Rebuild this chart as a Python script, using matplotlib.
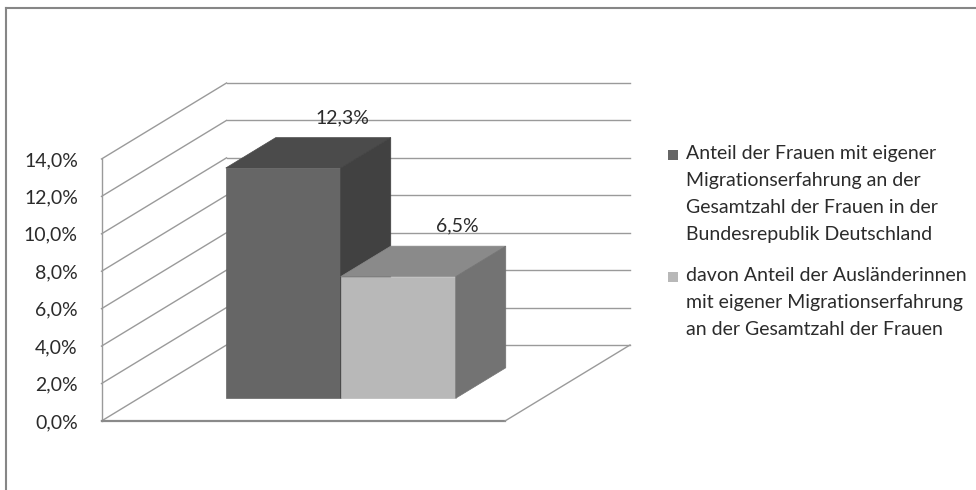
import matplotlib
matplotlib.use("Agg")
import matplotlib.pyplot as plt
from matplotlib.patches import Polygon, Rectangle
from matplotlib.lines import Line2D

# Zahlen
series_labels = [
    "Anteil der Frauen mit eigener\nMigrationserfahrung an der\n"
    "Gesamtzahl der Frauen in der\nBundesrepublik Deutschland",
    "davon Anteil der Ausländerinnen\nmit eigener Migrationserfahrung\n"
    "an der Gesamtzahl der Frauen",
]
values = [12.3, 6.5]
yticks = [0, 2, 4, 6, 8, 10, 12, 14]

front_cols = ["#666666", "#b8b8b8"]
top_cols = ["#4b4b4b", "#8a8a8a"]
side_cols = ["#414141", "#737373"]
grid_col = "#9a9a9a"
text_col = "#2b2b2b"

plt.rcParams["font.family"] = ["Lato", "DejaVu Sans"]
plt.rcParams["font.size"] = 14

W, H = 976, 490
fig = plt.figure(figsize=(W / 100, H / 100), dpi=100)
fig.patch.set_facecolor("white")

# front plane of the 3d box
ax = fig.add_axes([101.5 / W, 69 / H, 403.5 / W, 262 / H])
ax.set_xlim(-1, 1)
ax.set_ylim(0, 14)
ax.patch.set_visible(False)
for s in ax.spines.values():
    s.set_visible(False)
ax.set_xticks([])
ax.set_yticks(yticks)
ax.set_yticklabels([f"{v:.1f}%".replace(".", ",") for v in yticks], color=text_col,
                   va="center_baseline")
ax.tick_params(left=False, bottom=False, pad=13.5)

# oblique depth, in data units
DX = 125 / 403.5 * 2
DY = 76 / 262 * 14


def proj(x, y, d):
    return (x + d * DX, y + d * DY)


def seg(p, q, **kw):
    ax.add_line(Line2D([p[0], q[0]], [p[1], q[1]], clip_on=False, **kw))


x0, x1 = ax.get_xlim()
for y in yticks:
    seg(proj(x0, y, 0), proj(x0, y, 1), color=grid_col, lw=1, zorder=1)
    seg(proj(x0, y, 1), proj(x1, y, 1), color=grid_col, lw=1, zorder=1)
seg(proj(x0, 0, 0), proj(x0, yticks[-1], 0), color=grid_col, lw=1, zorder=1)
seg(proj(x0, 0, 0), proj(x1, 0, 0), color="#8a8a8a", lw=1.6, zorder=1)
seg(proj(x1, 0, 0), proj(x1, 0, 1), color=grid_col, lw=1, zorder=1)

# bars
n = len(values)
bw = 0.57
d0, d1 = 0.3, 0.7
for i, h in enumerate(values):
    c = (i - (n - 1) / 2) * bw
    a, b = c - bw / 2, c + bw / 2
    faces = [
        ([proj(a, 0, d0), proj(b, 0, d0), proj(b, h, d0), proj(a, h, d0)], front_cols[i]),
        ([proj(a, h, d0), proj(b, h, d0), proj(b, h, d1), proj(a, h, d1)], top_cols[i]),
        ([proj(b, 0, d0), proj(b, 0, d1), proj(b, h, d1), proj(b, h, d0)], side_cols[i]),
    ]
    for pts, col in faces:
        ax.add_patch(Polygon(pts, closed=True, facecolor=col, edgecolor=col,
                             lw=0.5, clip_on=False, zorder=2 + i))
    ax.annotate(f"{h:.1f}%".replace(".", ","), xy=proj(c, h, 0.5),
                xytext=(34, 35), textcoords="offset pixels",
                ha="center", va="center", color=text_col, zorder=5,
                annotation_clip=False)

# legend
entry_y = [155, 277]
for i, lab in enumerate(series_labels):
    fig.add_artist(Rectangle((668 / W, 1 - (entry_y[i] + 5) / H), 10 / W, 10 / H,
                             transform=fig.transFigure, facecolor=front_cols[i],
                             edgecolor="none"))
    fig.text(686 / W, 1 - (entry_y[i] - 10) / H, lab, va="top", ha="left",
             linespacing=1.72, color=text_col, fontsize=14)

# chart border
fig.add_artist(Line2D([6 / W, 6 / W], [0, 1 - 8.5 / H], color="#868686", lw=1.5,
                      transform=fig.transFigure))
fig.add_artist(Line2D([6 / W, 1], [1 - 8.5 / H, 1 - 8.5 / H], color="#868686", lw=1.5,
                      transform=fig.transFigure))

fig.savefig("out.png", dpi=100)
